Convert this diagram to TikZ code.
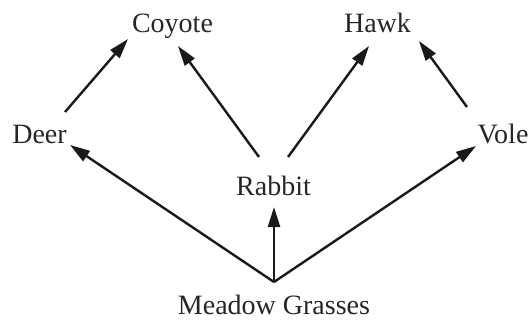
\documentclass[tikz,border=0pt]{standalone}
\usepackage{fontspec}
\setmainfont{Liberation Serif}
\usetikzlibrary{arrows.meta}
\begin{document}
\begin{tikzpicture}[x=1pt,y=-1pt,
  lbl/.style={anchor=base,inner sep=0pt,font=\fontsize{28}{30}\selectfont,text=black!85},
  arr/.style={line width=2.4pt,draw=black!90,-{Triangle[length=20pt,width=12pt]}}]
\useasboundingbox (0,0) rectangle (531,321);
\node[lbl] (coyote) at (172.5,33) {Coyote};
\node[lbl] (hawk) at (377.5,33) {Hawk};
\node[lbl] (deer) at (39.5,143) {Deer};
\node[lbl] (vole) at (503,143) {Vole};
\node[lbl] (rabbit) at (273.5,195) {Rabbit};
\node[lbl] (meadow) at (274,314) {Meadow Grasses};
% connector end points
\coordinate (deerOut) at (65,112);
\coordinate (coyoteInL) at (128,39);
\coordinate (coyoteInR) at (178,46);
\coordinate (rabbitOutL) at (259,157);
\coordinate (rabbitOutR) at (288,157);
\coordinate (hawkInL) at (369,46);
\coordinate (hawkInR) at (419,41);
\coordinate (voleOut) at (467,107);
\coordinate (meadowOut) at (274,282);
\coordinate (deerIn) at (70,145);
\coordinate (voleIn) at (476,146);
\coordinate (rabbitIn) at (274,207);
\draw[arr] (deerOut) -- (coyoteInL);
\draw[arr] (rabbitOutL) -- (coyoteInR);
\draw[arr] (rabbitOutR) -- (hawkInL);
\draw[arr] (voleOut) -- (hawkInR);
\draw[arr] (meadowOut) -- (deerIn);
\draw[arr] (meadowOut) -- (rabbitIn);
\draw[arr] (meadowOut) -- (voleIn);
\end{tikzpicture}
\end{document}
